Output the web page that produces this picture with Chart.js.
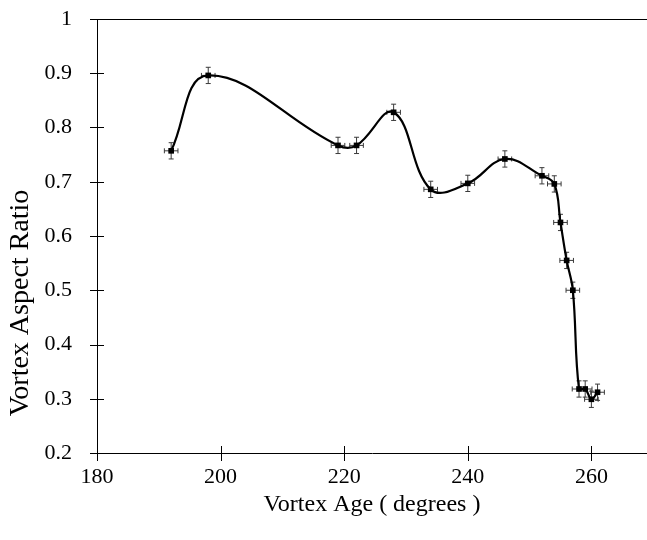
<!DOCTYPE html>
<html>
<head>
<meta charset="utf-8">
<script src="https://cdn.jsdelivr.net/npm/chart.js@4.4.1/dist/chart.umd.min.js"></script>
<style>
  html, body { margin: 0; padding: 0; background: #fff; }
  #wrap { width: 647px; height: 540px; }
</style>
</head>
<body>
<div id="wrap"><canvas id="chart" width="647" height="540"></canvas></div>
<script>
// Vortex age (degrees) and measured aspect ratio, with measurement uncertainty
const vortexAge   = [192, 198, 219, 222, 228, 234, 240, 246, 252, 254, 255, 256, 257, 258, 259, 260, 261];
const aspectRatio = [0.757, 0.896, 0.767, 0.767, 0.828, 0.686, 0.697, 0.742, 0.711, 0.696, 0.625, 0.555, 0.500, 0.318, 0.318, 0.299, 0.312];
const ageError    = [1.1, 1.1, 1.1, 1.1, 1.1, 1.1, 1.1, 1.1, 1.1, 1.1, 1.1, 1.1, 1.1, 1.1, 1.1, 1.1, 1.1];
const ratioError  = [0.015, 0.015, 0.015, 0.015, 0.015, 0.015, 0.015, 0.015, 0.015, 0.015, 0.015, 0.015, 0.015, 0.015, 0.015, 0.015, 0.015];

// Axis tick values
const ageTicks   = [180, 200, 220, 240, 260];
const ratioTicks = [0.2, 0.3, 0.4, 0.5, 0.6, 0.7, 0.8, 0.9, 1];

const FONT = 'Liberation Serif, Times New Roman, serif';

// Error bars with end caps, placed through the chart's scales
const errorBars = {
  id: 'errorBars',
  beforeDatasetsDraw(chart) {
    const { ctx, scales: { x, y } } = chart;
    ctx.save();
    ctx.strokeStyle = '#3a3a3a';
    ctx.lineWidth = 1;
    vortexAge.forEach((age, i) => {
      const px = x.getPixelForValue(age);
      const py = y.getPixelForValue(aspectRatio[i]);
      const xl = x.getPixelForValue(age - ageError[i]);
      const xr = x.getPixelForValue(age + ageError[i]);
      const yt = y.getPixelForValue(aspectRatio[i] + ratioError[i]);
      const yb = y.getPixelForValue(aspectRatio[i] - ratioError[i]);
      ctx.beginPath();
      // vertical bar + caps
      ctx.moveTo(px, yt); ctx.lineTo(px, yb);
      ctx.moveTo(px - 2.5, yt); ctx.lineTo(px + 2.5, yt);
      ctx.moveTo(px - 2.5, yb); ctx.lineTo(px + 2.5, yb);
      // horizontal bar + caps
      ctx.moveTo(xl, py); ctx.lineTo(xr, py);
      ctx.moveTo(xl, py - 2.5); ctx.lineTo(xl, py + 2.5);
      ctx.moveTo(xr, py - 2.5); ctx.lineTo(xr, py + 2.5);
      ctx.stroke();
    });
    ctx.restore();
  }
};

// Cross tick marks, top frame line and the rotated y-axis title
const frame = {
  id: 'frame',
  afterDraw(chart) {
    const { ctx, chartArea: a, scales: { x, y } } = chart;
    ctx.save();
    ctx.strokeStyle = '#000';
    ctx.lineWidth = 1;
    ctx.beginPath();
    ageTicks.forEach(v => {
      const px = Math.round(x.getPixelForValue(v)) + 0.5;
      ctx.moveTo(px, a.bottom - 7); ctx.lineTo(px, a.bottom + 8);
    });
    ratioTicks.forEach(v => {
      const py = Math.round(y.getPixelForValue(v)) + 0.5;
      ctx.moveTo(a.left - 7, py); ctx.lineTo(a.left + 7, py);
    });
    const top = Math.round(a.top) + 0.5;
    ctx.moveTo(a.left, top); ctx.lineTo(a.right, top);
    ctx.stroke();

    ctx.fillStyle = '#000';
    ctx.font = '28px ' + FONT;
    ctx.textAlign = 'center';
    ctx.textBaseline = 'middle';
    ctx.translate(21, 303);
    ctx.rotate(-Math.PI / 2);
    ctx.fillText('Vortex Aspect Ratio', 0, 0);
    ctx.restore();
  }
};

new Chart(document.getElementById('chart'), {
  type: 'line',
  data: {
    datasets: [{
      data: vortexAge.map((age, i) => ({ x: age, y: aspectRatio[i] })),
      borderColor: '#000',
      borderWidth: 2.2,
      tension: 0.4,
      fill: false,
      pointStyle: 'rect',
      pointRadius: 4,
      pointBackgroundColor: '#000',
      pointBorderWidth: 0,
      pointHoverRadius: 4
    }]
  },
  options: {
    responsive: false,
    devicePixelRatio: 1,
    animation: false,
    events: [],
    layout: { autoPadding: false, padding: { top: 19, right: 0, bottom: 0, left: 0 } },
    plugins: { legend: { display: false }, tooltip: { enabled: false } },
    scales: {
      x: {
        type: 'linear',
        min: 180,
        max: 269,
        afterBuildTicks: s => { s.ticks = ageTicks.map(v => ({ value: v })); },
        afterFit: s => { s.height = 87; s.paddingLeft = 0; s.paddingRight = 0; },
        grid: { display: false },
        border: { display: true, color: '#000', width: 1 },
        ticks: { color: '#000', font: { family: FONT, size: 22 }, padding: 3, maxRotation: 0 },
        title: {
          display: true,
          text: 'Vortex Age ( degrees )',
          color: '#000',
          font: { family: FONT, size: 24 },
          padding: { top: 0, bottom: 21 }
        }
      },
      y: {
        type: 'linear',
        min: 0.2,
        max: 1,
        afterBuildTicks: s => { s.ticks = ratioTicks.map(v => ({ value: v })); },
        afterFit: s => { s.width = 97; s.paddingTop = 0; s.paddingBottom = 0; },
        grid: { display: false },
        border: { display: true, color: '#000', width: 1 },
        ticks: {
          color: '#000',
          font: { family: FONT, size: 22 },
          padding: 17,
          callback: v => String(Math.round(v * 10) / 10)
        }
      }
    }
  },
  plugins: [errorBars, frame]
});
</script>
</body>
</html>
